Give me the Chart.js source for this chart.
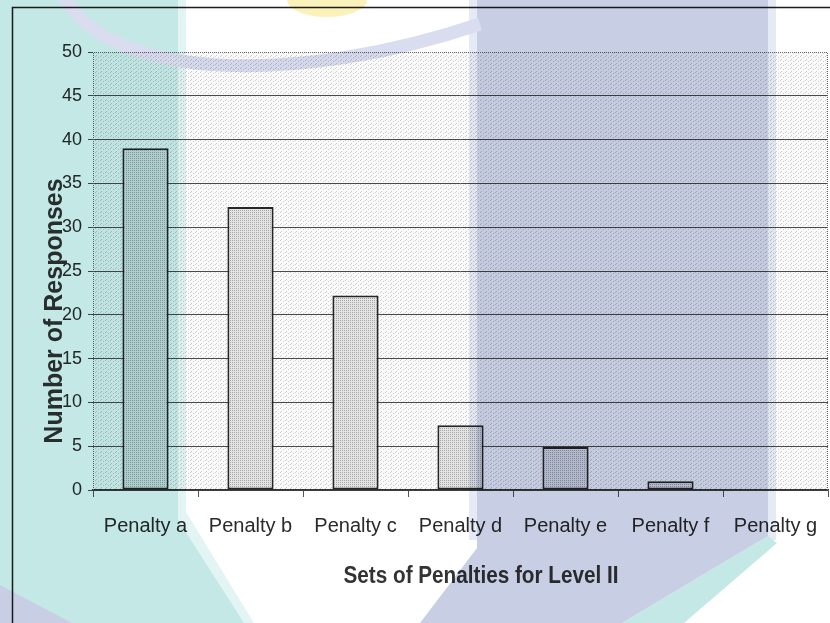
<!DOCTYPE html>
<html>
<head>
<meta charset="utf-8">
<title>Sets of Penalties for Level II</title>
<script src="https://cdn.jsdelivr.net/npm/chart.js@4/dist/chart.umd.min.js"></script>
<style>
  html, body { margin: 0; padding: 0; background: #fff; }
  #wrap { width: 830px; height: 623px; overflow: hidden; }
</style>
</head>
<body>
<div id="wrap"><canvas id="chart" width="830" height="623"></canvas></div>
<script>
// Responses per penalty set (Level II)
const categories = ['Penalty a', 'Penalty b', 'Penalty c', 'Penalty d', 'Penalty e', 'Penalty f', 'Penalty g'];
const responses = [39, 32.3, 22.2, 7.4, 4.9, 1, 0];
const yMin = 0;
const yMax = 50;
const yStep = 5;

const xTitle = 'Sets of Penalties for Level II';
const yTitle = 'Number of Responses';

const FONT = "'Liberation Sans', Arial, Helvetica, sans-serif";

// small halftone tiles used for the plot background and bar fill
function makePattern(w, h, base, dot, dots) {
  const c = document.createElement('canvas');
  c.width = w; c.height = h;
  const g = c.getContext('2d');
  g.fillStyle = base;
  g.fillRect(0, 0, w, h);
  g.fillStyle = dot;
  dots.forEach(([x, y]) => g.fillRect(x, y, 1, 1));
  return document.getElementById('chart').getContext('2d').createPattern(c, 'repeat');
}

const plotFill = makePattern(5, 4, '#fafafa', '#cdcdcd', [[0, 0], [3, 1], [1, 3]]);
const barFill = makePattern(2, 2, '#e4e4e4', '#a6a6a6', [[0, 0]]);

// outer frame, plot background and dotted plot border
const backdrop = {
  id: 'backdrop',
  beforeDraw(chart) {
    const { ctx, chartArea: a } = chart;
    ctx.save();
    ctx.fillStyle = '#fff';
    ctx.fillRect(0, 0, chart.width, chart.height);
    ctx.fillStyle = plotFill;
    ctx.fillRect(a.left, a.top, a.right - a.left, a.bottom - a.top);
    ctx.strokeStyle = '#1e1e1e';
    ctx.lineWidth = 1.5;
    ctx.strokeRect(12.5, 7.5, 1000, 1000);
    ctx.restore();
  },
  beforeDatasetsDraw(chart) {
    const { ctx, chartArea: a } = chart;
    ctx.save();
    ctx.strokeStyle = '#6a6a6a';
    ctx.lineWidth = 1;
    ctx.setLineDash([1, 1]);
    ctx.beginPath();
    ctx.moveTo(a.left + 0.5, a.bottom);
    ctx.lineTo(a.left + 0.5, a.top + 0.5);
    ctx.lineTo(a.right - 0.5, a.top + 0.5);
    ctx.lineTo(a.right - 0.5, a.bottom);
    ctx.stroke();
    ctx.restore();
  }
};

// axis titles sit off-centre, so they are placed by hand
const axisTitles = {
  id: 'axisTitles',
  afterDraw(chart) {
    const { ctx } = chart;
    ctx.save();
    ctx.fillStyle = '#333';
    ctx.textAlign = 'center';
    ctx.textBaseline = 'alphabetic';
    ctx.font = 'bold 23px ' + FONT;
    ctx.translate(481, 583);
    ctx.scale(0.9, 1);
    ctx.fillText(xTitle, 0, 0);
    ctx.restore();

    ctx.save();
    ctx.fillStyle = '#333';
    ctx.textAlign = 'center';
    ctx.textBaseline = 'alphabetic';
    ctx.font = 'bold 25px ' + FONT;
    ctx.translate(62, 311);
    ctx.rotate(-Math.PI / 2);
    ctx.fillText(yTitle, 0, 0);
    ctx.restore();
  }
};

// tinted page stamp laid over the whole figure
const stamp = {
  id: 'stamp',
  afterDraw(chart) {
    const off = document.createElement('canvas');
    off.width = chart.width; off.height = chart.height;
    const g = off.getContext('2d');
    const poly = (pts, col) => {
      g.fillStyle = col;
      g.beginPath();
      pts.forEach(([x, y], i) => (i ? g.lineTo(x, y) : g.moveTo(x, y)));
      g.closePath();
      g.fill();
    };
    const teal = 'rgb(195,232,230)';
    const tealSoft = 'rgb(226,244,243)';
    const lilac = 'rgb(200,207,228)';
    const lilacSoft = 'rgb(230,234,244)';

    poly([[178, 0], [186, 0], [186, 512], [254, 623], [178, 623]], tealSoft);
    poly([[0, 0], [178, 0], [178, 520], [244, 623], [0, 623]], teal);
    poly([[0, 585], [72, 623], [0, 623]], lilac);

    poly([[469, 0], [776, 0], [776, 540], [469, 540]], lilacSoft);
    poly([[768, 536], [777, 543], [684, 623], [622, 623]], teal);
    poly([[477, 0], [768, 0], [768, 536], [622, 623], [420, 623], [477, 548]], lilac);

    // yellow blob at the top edge
    g.fillStyle = 'rgb(250,242,186)';
    g.beginPath();
    g.ellipse(327, 0, 40, 17, 0, 0, Math.PI * 2);
    g.fill();

    // swoosh across the top
    g.strokeStyle = 'rgb(218,221,240)';
    g.lineWidth = 13;
    g.lineCap = 'butt';
    g.beginPath();
    g.moveTo(64, -4);
    g.bezierCurveTo(110, 82, 300, 85, 480, 24);
    g.stroke();

    const { ctx } = chart;
    ctx.save();
    ctx.globalCompositeOperation = 'multiply';
    ctx.drawImage(off, 0, 0);
    ctx.restore();
  }
};

new Chart(document.getElementById('chart'), {
  type: 'bar',
  data: {
    labels: categories,
    datasets: [{
      data: responses,
      backgroundColor: barFill,
      borderColor: '#262626',
      borderWidth: 2,
      borderSkipped: false,
      categoryPercentage: 1,
      barPercentage: 0.44
    }]
  },
  options: {
    responsive: false,
    animation: false,
    devicePixelRatio: 1,
    layout: { padding: { top: 52, right: 2, left: 0, bottom: 0 } },
    plugins: {
      legend: { display: false },
      title: { display: false },
      tooltip: { enabled: false }
    },
    scales: {
      x: {
        offset: true,
        grid: {
          offset: true,
          drawOnChartArea: false,
          drawTicks: true,
          tickLength: 7,
          color: '#555',
          lineWidth: 1
        },
        border: { display: true, color: '#333', width: 1.5 },
        ticks: {
          color: '#2a2a2a',
          font: { family: FONT, size: 20 },
          padding: 17,
          maxRotation: 0,
          autoSkip: false
        },
        afterFit(scale) {
          scale.height = 133;
          scale.paddingLeft = 0;
          scale.paddingRight = 0;
        }
      },
      y: {
        min: yMin,
        max: yMax,
        grid: {
          color: (c) => (c.tick && c.tick.value === yMax ? 'rgba(0,0,0,0)' : '#4a4a4a'),
          tickColor: '#4a4a4a',
          lineWidth: 1,
          drawTicks: true,
          tickLength: 5
        },
        border: { display: false },
        ticks: {
          stepSize: yStep,
          color: '#2a2a2a',
          font: { family: FONT, size: 18 },
          padding: 6
        },
        afterFit(scale) { scale.width = 93; }
      }
    }
  },
  plugins: [backdrop, axisTitles, stamp]
});
</script>
</body>
</html>
